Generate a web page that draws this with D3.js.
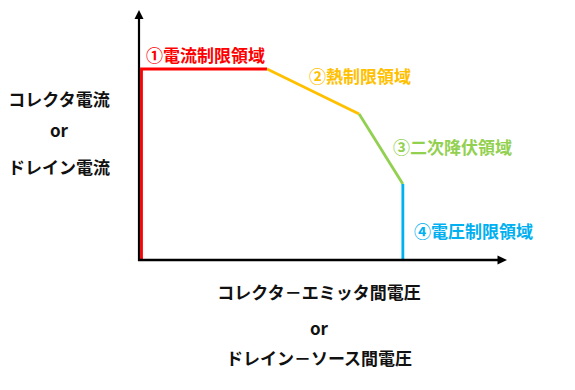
<!DOCTYPE html>
<html><head><meta charset="utf-8">
<script src="https://cdn.jsdelivr.net/npm/d3@7"></script>
<style>
html,body{margin:0;padding:0;background:#fff;}
svg{display:block;}
text{font-family:"Noto Sans CJK JP","Noto Sans",sans-serif;font-weight:bold;}
</style></head>
<body>
<script>
// Region names (categories)
const regions = ["①電流制限領域", "②熱制限領域", "③二次降伏領域", "④電圧制限領域"];
const regionColors = ["#ff0000", "#ffc000", "#92d050", "#00b0f0"];
// Boundary points of each region segment (voltage, current) in relative units 0-100
const segX = [[0, 0, 34.5], [34.5, 59.8], [59.8, 71.8], [71.8, 71.8]];
const segY = [[0, 76.4, 76.4], [76.4, 58.4], [58.4, 30.4], [30.4, 0]];
// Axis titles
const yTitle = ["コレクタ電流", "or", "ドレイン電流"];
const xTitle = ["コレクタ－エミッタ間電圧", "or", "ドレイン－ソース間電圧"];

const W = 575, H = 390;
const svg = d3.select("body").append("svg").attr("width", W).attr("height", H);

const x = d3.scaleLinear().domain([0, 100]).range([141.5, 505.5]);
const y = d3.scaleLinear().domain([0, 100]).range([260, 10]);

const line = d3.line().x(d => x(d[0])).y(d => y(d[1]));

// curves
segX.forEach((xs, i) => {
  const pts = xs.map((v, j) => [v, segY[i][j]]);
  svg.append("path").attr("d", line(pts)).attr("fill", "none")
    .attr("stroke", regionColors[i]).attr("stroke-width", 2.8)
    .attr("stroke-linejoin", "miter");
});

// axes
const ax0 = x(0) - 2.5, ay0 = y(0);
svg.append("line").attr("x1", ax0).attr("y1", ay0 + 1).attr("x2", ax0).attr("y2", y(100) + 7)
  .attr("stroke", "#000").attr("stroke-width", 2.2);
svg.append("line").attr("x1", ax0 - 1).attr("y1", ay0).attr("x2", x(100) - 7).attr("y2", ay0)
  .attr("stroke", "#000").attr("stroke-width", 2.5);
// arrowheads
svg.append("path").attr("d", `M${ax0},${y(100)} L${ax0 - 4.5},${y(100) + 9} L${ax0 + 4.5},${y(100) + 9} Z`).attr("fill", "#000");
svg.append("path").attr("d", `M${x(100) + 1.5},${ay0} L${x(100) - 8},${ay0 - 4.5} L${x(100) - 8},${ay0 + 4.5} Z`).attr("fill", "#000");

// region labels
const labelPos = [[146, 54.5], [309, 75.5], [393, 146], [414, 230]];
regions.forEach((t, i) => {
  svg.append("text").attr("x", labelPos[i][0]).attr("y", labelPos[i][1])
    .attr("dominant-baseline", "central").attr("font-size", 17)
    .attr("fill", regionColors[i]).text(t);
});

// y title
const yTitleY = [98, 129, 166];
yTitle.forEach((t, i) => {
  svg.append("text").attr("x", 59).attr("y", yTitleY[i]).attr("text-anchor", "middle")
    .attr("dominant-baseline", "central").attr("font-size", 17).attr("fill", "#111").text(t);
});
// x title
const xTitleY = [291, 327, 357.5];
xTitle.forEach((t, i) => {
  svg.append("text").attr("x", 319).attr("y", xTitleY[i]).attr("text-anchor", "middle")
    .attr("dominant-baseline", "central").attr("font-size", 17).attr("fill", "#111").text(t);
});
</script>
</body></html>
